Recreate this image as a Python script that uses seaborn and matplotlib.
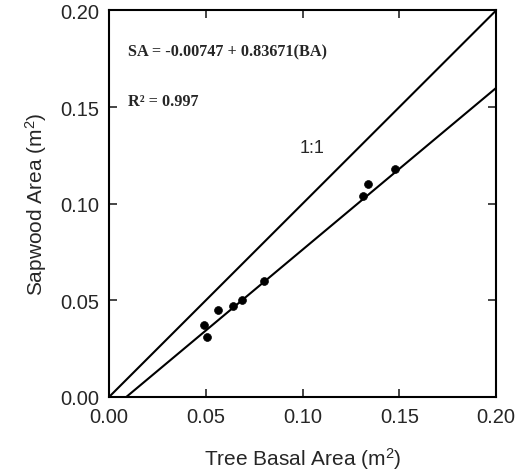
import numpy as np
import pandas as pd
import matplotlib
matplotlib.use("Agg")
import matplotlib.pyplot as plt
import seaborn as sns

# Measured trees: basal area vs sapwood area (m^2)
basal_area = [0.049, 0.0505, 0.056, 0.064, 0.0686, 0.080, 0.131, 0.134, 0.148]
sapwood_area = [0.037, 0.031, 0.045, 0.047, 0.050, 0.060, 0.104, 0.110, 0.118]

# Fitted regression coefficients
intercept = -0.00747
slope = 0.83671
r_squared = 0.997

ticks = [0.00, 0.05, 0.10, 0.15, 0.20]
tick_labels = ["0.00", "0.05", "0.10", "0.15", "0.20"]

sns.set_style("ticks")
plt.rcParams["font.family"] = ["Liberation Sans", "DejaVu Sans"]
plt.rcParams["mathtext.fontset"] = "custom"
plt.rcParams["mathtext.rm"] = "Liberation Sans"
plt.rcParams["mathtext.it"] = "Liberation Sans"

fig = plt.figure(figsize=(5.2, 4.77), dpi=100)
ax = fig.add_axes([0.21, 0.166, 0.744, 0.81])

df = pd.DataFrame({"BA": basal_area, "SA": sapwood_area})

# 1:1 reference line
one = pd.DataFrame({"x": [0.0, 0.20], "y": [0.0, 0.20]})
sns.lineplot(data=one, x="x", y="y", ax=ax, color="black", linewidth=1.5)

# Regression line from its x-intercept to the right edge
x0 = -intercept / slope
fit_x = np.array([x0, 0.20])
fit = pd.DataFrame({"x": fit_x, "y": intercept + slope * fit_x})
sns.lineplot(data=fit, x="x", y="y", ax=ax, color="black", linewidth=1.5)

sns.scatterplot(data=df, x="BA", y="SA", ax=ax, color="black", s=32,
                edgecolor="black", linewidth=0.5, zorder=5)

ax.set_xlim(0, 0.20)
ax.set_ylim(0, 0.20)
ax.set_xticks(ticks)
ax.set_xticklabels(tick_labels)
ax.set_yticks(ticks)
ax.set_yticklabels(tick_labels)
ax.tick_params(direction="in", length=6, width=1.2, labelsize=14.5,
               top=True, right=True, pad=7)
for s in ax.spines.values():
    s.set_linewidth(1.5)
    s.set_color("black")

ax.set_xlabel("Tree Basal Area (m$^2$)", fontsize=15, labelpad=14)
ax.set_ylabel("Sapwood Area (m$^2$)", fontsize=15, labelpad=8)

ax.text(0.0098, 0.179, f"SA = {intercept:.5f} + {slope:.5f}(BA)",
        family="Liberation Serif", fontweight="bold", fontsize=11.7,
        va="center", ha="left")
ax.text(0.0098, 0.153, f"R\u00b2 = {r_squared}",
        family="Liberation Serif", fontweight="bold", fontsize=11.7,
        va="center", ha="left")
ax.text(0.105, 0.129, "1:1", fontsize=13, va="center", ha="center")

fig.savefig("out.png", dpi=100)
